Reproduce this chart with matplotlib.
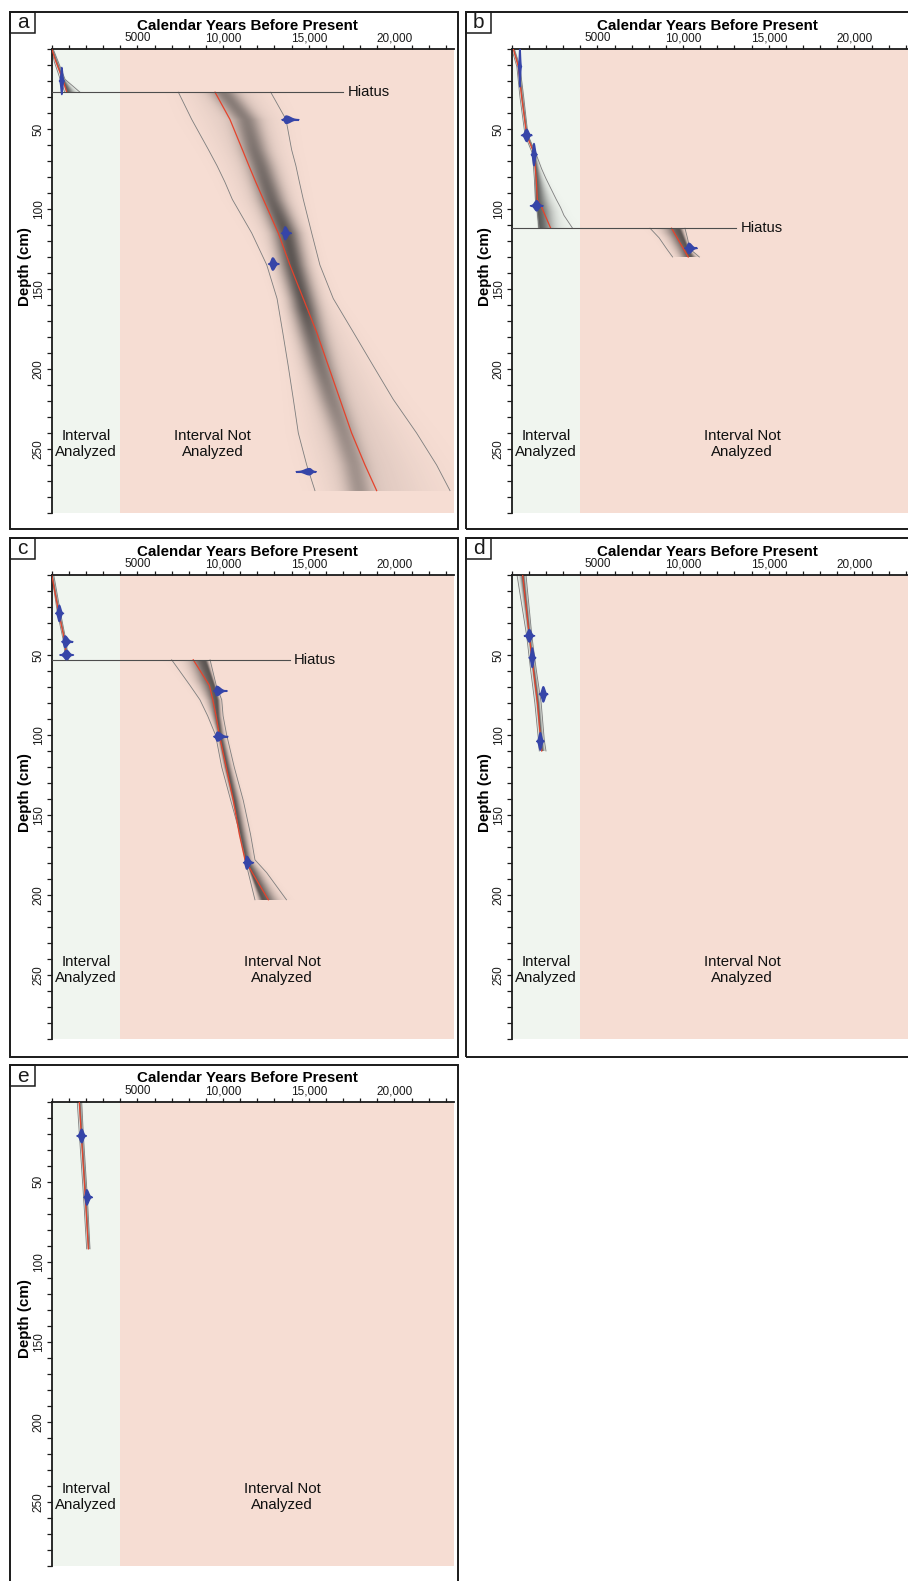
import numpy as np
import matplotlib
matplotlib.use("Agg")
import matplotlib.pyplot as plt
from matplotlib.patches import Rectangle, Polygon

plt.rcParams['font.family'] = ['Liberation Sans', 'DejaVu Sans']

W, H = 908, 1581
X_MAX = 23480          # years shown on the age axis
D_MAX = 290            # cm shown on the depth axis
ANALYZED_MAX = 4000    # end of the analysed interval (years)
PX_X = 402.4           # axes width in px
PX_Y = 464.0           # axes height in px

GREEN = '#f0f5ef'
PINK = '#f6ddd3'
RED = '#e5432c'
BOUND = '#7d7d7d'
BLUE = '#3645a8'
DATE_K = 760.0         # date blob half-height (cm) times total sd (yr)

# ---- age-depth models: depth (cm), lower / median / upper age, densest age ----
# core a
a1_depth = [0, 8, 19, 27]
a1_lo = [0, 150, 500, 760]
a1_mid = [0, 250, 640, 880]
a1_hi = [80, 380, 780, 1650]
a1_mode = [0, 250, 640, 880]

a2_depth = [27, 44, 63, 73, 83, 94, 115, 135, 156, 177, 198, 219, 240, 260, 276]
a2_lo = [7390, 8170, 9150, 9650, 10100, 10540, 11670, 12550, 13150, 13480, 13800, 14100, 14390, 14880, 15360]
a2_mid = [9530, 10400, 11130, 11510, 11900, 12350, 13220, 13900, 14680, 15460, 16140, 16820, 17500, 18280, 18960]
a2_hi = [12780, 13670, 14000, 14250, 14450, 14680, 15170, 15650, 16430, 17600, 18760, 19930, 21290, 22460, 23240]
a2_mode = [10000, 11300, 11800, 12150, 12450, 12800, 13650, 14050, 14590, 15100, 15660, 16300, 17000, 17600, 17900]

# core b
b1_depth = [0, 11, 30, 54, 65, 75, 81, 94, 99, 104, 112]
b1_lo = [0, 300, 480, 780, 1200, 1280, 1320, 1380, 1450, 1520, 1610]
b1_mid = [95, 385, 580, 875, 1300, 1380, 1430, 1495, 1750, 1950, 2275]
b1_hi = [150, 480, 700, 950, 1400, 1750, 2000, 2600, 2850, 3050, 3550]
b1_mode = [95, 385, 580, 875, 1300, 1360, 1380, 1400, 1450, 1500, 1560]

b2_depth = [112, 118, 125, 130]
b2_lo = [8070, 8600, 9050, 9390]
b2_mid = [9330, 9650, 10030, 10300]
b2_hi = [10110, 10250, 10400, 10950]
b2_mode = [9700, 9950, 10250, 10400]

# core c
c1_depth = [0, 24, 42, 53]
c1_lo = [0, 340, 700, 800]
c1_mid = [0, 420, 775, 875]
c1_hi = [120, 520, 850, 960]
c1_mode = [0, 420, 775, 875]

c2_depth = [53, 69, 78, 88, 100, 120, 141, 162, 178, 186, 203]
c2_lo = [7000, 8070, 8650, 9100, 9560, 9920, 10450, 10990, 11300, 11470, 11860]
c2_mid = [8260, 9200, 9400, 9590, 9780, 10180, 10600, 10950, 11280, 11700, 12640]
c2_hi = [9240, 9600, 9920, 10000, 10210, 10650, 11180, 11600, 11860, 12540, 13700]
c2_mode = [8900, 9450, 9600, 9650, 9780, 10180, 10600, 10950, 11280, 11600, 12300]

# core d
d1_depth = [0, 38.5, 59, 80, 103, 110]
d1_lo = [310, 880, 1100, 1350, 1560, 1610]
d1_mid = [640, 1030, 1260, 1500, 1690, 1750]
d1_hi = [835, 1180, 1430, 1720, 1900, 2000]

# core e
e1_depth = [0, 21.4, 59.8, 92]
e1_lo = [1490, 1620, 1860, 2040]
e1_mid = [1610, 1730, 1960, 2140]
e1_hi = [1750, 1850, 2080, 2235]

# ---- dated samples: age, depth, sd below / above the peak ----
a_date_age = [590, 13680, 13620, 12900, 15040]
a_date_depth = [20, 44.2, 115.2, 134.4, 264.2]
a_date_sdlo = [45, 80, 70, 80, 260]
a_date_sdhi = [45, 250, 120, 120, 130]

b_date_age = [480, 875, 1300, 1460, 10340]
b_date_depth = [11, 54, 66, 98, 124.6]
b_date_sdlo = [30, 100, 50, 120, 80]
b_date_sdhi = [30, 100, 60, 120, 160]

c_date_age = [445, 775, 875, 9630, 9670, 11380]
c_date_depth = [24, 41.7, 50, 72.5, 101, 179.8]
c_date_sdlo = [70, 60, 130, 60, 70, 60]
c_date_sdhi = [80, 150, 130, 200, 200, 130]

d_date_age = [1030, 1200, 1845, 1670]
d_date_depth = [38, 51.7, 74.6, 104]
d_date_sdlo = [95, 60, 75, 70]
d_date_sdhi = [100, 65, 85, 70]

e_date_age = [1750, 2040]
e_date_depth = [21.4, 59.8]
e_date_sdlo = [90, 50]
e_date_sdhi = [90, 110]

# hiatus depth (cm) and how far its line runs (years)
hiatus = {'a': (27, 17000), 'b': (112, 13100), 'c': (53, 13900)}

x_major = [5000, 10000, 15000, 20000]
x_major_labels = ['5000', '10,000', '15,000', '20,000']
y_major = [50, 100, 150, 200, 250]

panels = {
    'a': dict(axes=(51.7, 49), frame=(10, 12, 448, 517), not_x=9400,
              sections=[(a1_depth, a1_lo, a1_mid, a1_hi, a1_mode),
                        (a2_depth, a2_lo, a2_mid, a2_hi, a2_mode)],
              dates=(a_date_age, a_date_depth, a_date_sdlo, a_date_sdhi)),
    'b': dict(axes=(511.7, 49), frame=(466, 12, 460, 517), not_x=13450,
              sections=[(b1_depth, b1_lo, b1_mid, b1_hi, b1_mode),
                        (b2_depth, b2_lo, b2_mid, b2_hi, b2_mode)],
              dates=(b_date_age, b_date_depth, b_date_sdlo, b_date_sdhi)),
    'c': dict(axes=(51.7, 575), frame=(10, 538, 448, 519), not_x=13450,
              sections=[(c1_depth, c1_lo, c1_mid, c1_hi, c1_mode),
                        (c2_depth, c2_lo, c2_mid, c2_hi, c2_mode)],
              dates=(c_date_age, c_date_depth, c_date_sdlo, c_date_sdhi)),
    'd': dict(axes=(511.7, 575), frame=(466, 538, 460, 519), not_x=13450,
              sections=[(d1_depth, d1_lo, d1_mid, d1_hi, d1_mid)],
              dates=(d_date_age, d_date_depth, d_date_sdlo, d_date_sdhi)),
    'e': dict(axes=(51.7, 1101.7), frame=(10, 1065, 448, 530), not_x=13450,
              sections=[(e1_depth, e1_lo, e1_mid, e1_hi, e1_mid)],
              dates=(e_date_age, e_date_depth, e_date_sdlo, e_date_sdhi)),
}


def fig_rect(x, y, w, h):
    return [x / W, 1 - (y + h) / H, w / W, h / H]


def draw_cloud(ax, depth, lo, mid, hi, mode):
    d = np.linspace(depth[0], depth[-1], 300)
    x = np.linspace(0, X_MAX, 2400)
    m = np.interp(d, depth, mode)[:, None]
    l = np.interp(d, depth, lo)[:, None]
    h = np.interp(d, depth, hi)[:, None]
    wl = np.maximum(m - l, 40)
    wr = np.maximum(h - m, 40)
    dx = x[None, :] - m
    side = np.where(dx < 0, wl, wr)
    core = np.clip(0.35 * side, 30, 520)
    a_core = np.clip(2200 / (wl + wr), 0.25, 0.62)
    alpha = a_core * np.exp(-0.5 * (dx / core) ** 2) + 0.12 * np.exp(-0.5 * (dx / (0.5 * side)) ** 2)
    rgba = np.zeros(alpha.shape + (4,))
    rgba[..., :3] = 0.15
    rgba[..., 3] = np.clip(alpha, 0, 0.75)
    ax.imshow(rgba, extent=[0, X_MAX, depth[-1], depth[0]], aspect='auto',
              interpolation='bilinear', zorder=1)
    ax.plot(lo, depth, color=BOUND, lw=0.6, zorder=2)
    ax.plot(hi, depth, color=BOUND, lw=0.6, zorder=2)
    ax.plot(mid, depth, color=RED, lw=0.9, zorder=3)


def draw_date(ax, age, depth, sd_lo, sd_hi):
    half = DATE_K / (sd_lo + sd_hi)
    xs = np.linspace(age - 3 * sd_lo, age + 3 * sd_hi, 120)
    sd = np.where(xs < age, sd_lo, sd_hi)
    hh = half * np.exp(-0.5 * ((xs - age) / sd) ** 2)
    poly = np.concatenate([np.c_[xs, depth - hh], np.c_[xs[::-1], depth + hh[::-1]]])
    ax.add_patch(Polygon(poly, closed=True, fc=BLUE, ec=BLUE, lw=1.0, zorder=5))
    ax.plot([age - 3 * sd_lo, age + 3 * sd_hi], [depth, depth], color=BLUE, lw=1.5,
            solid_capstyle='butt', zorder=5)


fig = plt.figure(figsize=(W / 100, H / 100), dpi=100)

for name, p in panels.items():
    ax0, ay0 = p['axes']
    ax = fig.add_axes(fig_rect(ax0, ay0, PX_X, PX_Y))
    ax.set_facecolor('white')

    ax.axvspan(0, ANALYZED_MAX, color=GREEN, lw=0, zorder=0)
    ax.axvspan(ANALYZED_MAX, X_MAX, color=PINK, lw=0, zorder=0)

    for sec in p['sections']:
        draw_cloud(ax, *sec)

    for age, dep, slo, shi in zip(*p['dates']):
        draw_date(ax, age, dep, slo, shi)

    if name in hiatus:
        hd, hx = hiatus[name]
        ax.plot([0, hx], [hd, hd], color='#4d4d4d', lw=0.8, zorder=4)
        ax.text(hx + 250, hd, 'Hiatus', fontsize=10.6, va='center', ha='left', color='#111111')

    ax.text(2000, 247, 'Interval\nAnalyzed', fontsize=10.8, ha='center', va='center',
            linespacing=1.15, color='#111111', zorder=6)
    ax.text(p['not_x'], 247, 'Interval Not\nAnalyzed', fontsize=10.8, ha='center',
            va='center', linespacing=1.15, color='#111111', zorder=6)

    ax.set_xlim(0, X_MAX)
    ax.set_ylim(D_MAX, 0)

    ax.xaxis.tick_top()
    ax.set_xticks(x_major)
    ax.set_xticklabels(x_major_labels)
    ax.set_xticks(np.arange(0, X_MAX, 1000), minor=True)
    ax.set_yticks(y_major)
    ax.set_yticklabels([str(v) for v in y_major], rotation=90, va='center')
    ax.set_yticks(np.arange(0, D_MAX + 1, 10), minor=True)
    ax.tick_params(axis='x', which='both', direction='out', length=3, width=0.9,
                   pad=0.3, labelsize=8.5, colors='#1a1a1a')
    ax.tick_params(axis='y', which='both', direction='out', length=3.5, width=0.9,
                   pad=1.5, labelsize=8.5, colors='#1a1a1a')
    for s in ('right', 'bottom'):
        ax.spines[s].set_visible(False)
    for s in ('top', 'left'):
        ax.spines[s].set_linewidth(1.3)
        ax.spines[s].set_color('#1a1a1a')

    ax.text(0.487, 1 + 19.5 / PX_Y, 'Calendar Years Before Present', transform=ax.transAxes,
            ha='center', va='baseline', fontsize=10.9, fontweight='bold')
    ax.text(-26.7 / PX_X, 0.532, 'Depth (cm)', transform=ax.transAxes, rotation=90,
            ha='center', va='center', fontsize=10.9, fontweight='bold')

    fx, fy, fw, fh = p['frame']
    fig.add_artist(Rectangle(fig_rect(fx, fy, fw, fh)[:2], fw / W, fh / H,
                             transform=fig.transFigure, fill=False, lw=1.4, ec='#1a1a1a'))
    fig.add_artist(Rectangle(fig_rect(fx, fy, 25, 21)[:2], 25 / W, 21 / H,
                             transform=fig.transFigure, fill=False, lw=1.1, ec='#1a1a1a'))
    fig.text((fx + 12.5) / W, 1 - (fy + 11) / H, name, fontsize=15, ha='center',
             va='center', color='#1a1a1a')

fig.savefig('out.png', dpi=100)
